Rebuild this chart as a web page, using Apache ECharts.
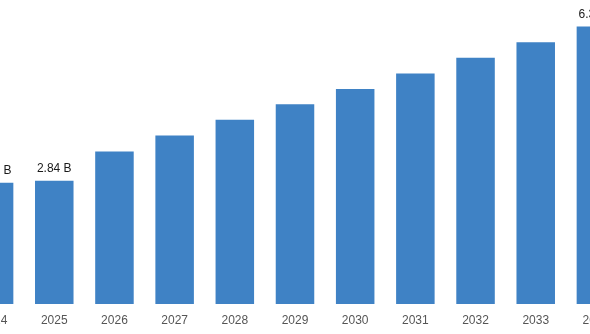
<!DOCTYPE html>
<html>
<head>
<meta charset="utf-8">
<script src="https://cdn.jsdelivr.net/npm/echarts@6/dist/echarts.min.js"></script>
<style>
  html, body { margin: 0; padding: 0; width: 590px; height: 334px; overflow: hidden; background: #fff; }
  #chart { position: absolute; left: -36px; top: 0; width: 662px; height: 334px; }
</style>
</head>
<body>
<div id="chart"></div>
<script>
// Market size by year, in billions
const years = ['2024', '2025', '2026', '2027', '2028', '2029', '2030', '2031', '2032', '2033', '2034'];
const marketSize = [2.79, 2.84, 3.51, 3.88, 4.24, 4.60, 4.95, 5.31, 5.67, 6.03, 6.39];
// Only the first, second and last bars carry a value label
const labelledYears = ['2024', '2025', '2034'];

const chart = echarts.init(document.getElementById('chart'), null, { renderer: 'canvas' });

chart.setOption({
  animation: false,
  grid: { left: 0, right: 0, top: 0, bottom: 30 },
  xAxis: {
    type: 'category',
    data: years,
    axisLine: { show: false },
    axisTick: { show: false },
    axisLabel: {
      color: '#555555',
      fontSize: 12,
      fontFamily: 'Liberation Sans, Arial, sans-serif',
      margin: 11
    }
  },
  yAxis: {
    type: 'value',
    min: 0,
    max: 7,
    show: false,
    splitLine: { show: false }
  },
  series: [{
    type: 'bar',
    barWidth: '64%',
    data: marketSize.map((v, i) => ({
      value: v,
      label: { show: labelledYears.includes(years[i]) }
    })),
    itemStyle: { color: '#3f82c5' },
    label: {
      position: 'top',
      distance: 6,
      color: '#1a1a1a',
      fontSize: 12,
      fontFamily: 'Liberation Sans, Arial, sans-serif',
      formatter: p => p.value.toFixed(2) + ' B'
    }
  }]
});
</script>
</body>
</html>
